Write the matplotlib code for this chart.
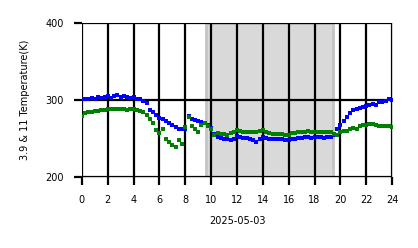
import matplotlib
matplotlib.use("Agg")
import matplotlib.pyplot as plt
import numpy as np

# hours of day, sampled every 15 minutes
hours = np.arange(0, 24.01, 0.25)

# 3.9 um brightness temperature (K)
temp_39 = [
    301, 302, 301, 303, 302, 304, 303, 304, 305, 303, 305, 306, 304, 305, 304, 303,
    304, 302, 302, 299, 296, 287, 284, 280, 277, 275, 273, 270, 268, 265, 263, 262,
    263, 279, 276, 274, 273, 271, 270, 267, 264, 256, 252, 251, 249, 250, 248, 250,
    253, 252, 251, 251, 250, 248, 246, 250, 252, 251, 250, 250, 250, 249, 249, 248,
    248, 249, 250, 251, 251, 252, 252, 251, 252, 252, 252, 251, 252, 252, 255, 262,
    268, 273, 278, 283, 287, 289, 290, 291, 292, 293, 295, 294, 297, 298, 299, 301,
    300,
]

# 11 um brightness temperature (K)
temp_11 = [
    279, 283, 284, 285, 286, 286, 287, 287, 288, 288, 288, 288, 288, 288, 287, 288,
    288, 287, 286, 284, 281, 275, 270, 261, 257, 262, 250, 245, 242, 239, 248, 243,
    265, 278, 266, 262, 259, 268, 270, 266, 262, 255, 257, 256, 256, 255, 257, 258,
    261, 260, 259, 258, 258, 258, 258, 260, 261, 258, 257, 256, 256, 256, 256, 255,
    255, 257, 257, 258, 258, 259, 260, 259, 259, 258, 259, 259, 258, 258, 256, 255,
    258, 260, 260, 262, 264, 263, 266, 267, 268, 269, 269, 268, 266, 266, 266, 266,
    265,
]

night = (9.6, 19.4)
xticks = list(range(0, 25, 2))
yticks = [200, 300, 400]
date_label = "2025-05-03"

fig = plt.figure(figsize=(4.18, 2.48), dpi=100)
ax = fig.add_axes([0.196, 0.286, 0.742, 0.621])

ax.axvspan(night[0], night[1], facecolor="#d9d9d9", edgecolor="#c4c4c4", linewidth=2, zorder=0)

ax.scatter(hours, temp_39, marker="s", s=9, c="blue", linewidths=0, zorder=3)
ax.scatter(hours, temp_11, marker="s", s=6, c="green", linewidths=0, zorder=4)

ax.set_xlim(0, 24)
ax.set_ylim(200, 400)
ax.set_xticks(xticks)
ax.set_yticks(yticks)
ax.grid(True, color="black", linewidth=1.6, zorder=2)
ax.set_axisbelow(False)
ax.tick_params(axis="both", length=6, width=1.6, labelsize=7, color="black", pad=7)
for sp in ax.spines.values():
    sp.set_color("#cccccc")
    sp.set_linewidth(0.8)

ax.set_xlabel(date_label, fontsize=7, labelpad=8)
ax.set_ylabel("3.9 & 11 Temperature(K)", fontsize=7, labelpad=11)

plt.savefig("out.png", dpi=100)
